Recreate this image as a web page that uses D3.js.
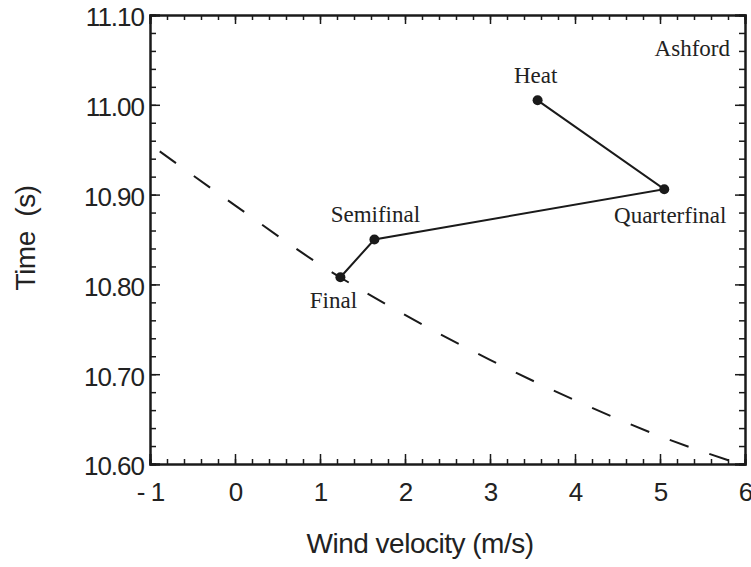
<!DOCTYPE html>
<html>
<head>
<style>
  body { margin: 0; background: #fff; }
  .tick text { fill: #222; }
</style>
</head>
<body>
<div id="chart"></div>
<script src="https://d3js.org/d3.v7.min.js"></script>
<script>
const stages = ["Heat", "Quarterfinal", "Semifinal", "Final"]
const stageWind = [3.56, 5.05, 1.64, 1.24]
const stageTime = [11.005, 10.906, 10.850, 10.808]

const curveWind = [-1, 0, 1, 2, 3, 4, 5, 6]
const curveTime = [10.956, 10.888, 10.822, 10.766, 10.716, 10.671, 10.631, 10.598]

const xTicks = [-1, 0, 1, 2, 3, 4, 5, 6]
const yTicks = [10.6, 10.7, 10.8, 10.9, 11.0, 11.1]

const width = 751, height = 567
const plotLeft = 150, plotRight = 745, plotTop = 15, plotBottom = 464

const x = d3.scaleLinear().domain([-1, 6]).range([plotLeft, plotRight])
const y = d3.scaleLinear().domain([10.6, 11.1]).range([plotBottom, plotTop])

const svg = d3.select("#chart").append("svg")
  .attr("width", width).attr("height", height)

const ink = "#1a1a1a"
const xMinor = d3.range(-1, 6.001, 0.2)
const yMinor = d3.range(10.6, 11.1001, 0.02)

// bottom axis
svg.append("g").attr("transform", `translate(0,${plotBottom})`)
  .call(d3.axisBottom(x).tickValues(xMinor).tickSize(-5).tickFormat(""))
svg.append("g").attr("class", "xaxis").attr("transform", `translate(0,${plotBottom})`)
  .call(d3.axisBottom(x).tickValues(xTicks).tickSize(-10)
    .tickFormat(d => d < 0 ? "- " + Math.abs(d) : d))
// top axis
svg.append("g").attr("transform", `translate(0,${plotTop})`)
  .call(d3.axisTop(x).tickValues(xMinor).tickSize(-5).tickFormat(""))
svg.append("g").attr("transform", `translate(0,${plotTop})`)
  .call(d3.axisTop(x).tickValues(xTicks).tickSize(-9).tickFormat(""))
// left axis
svg.append("g").attr("transform", `translate(${plotLeft},0)`)
  .call(d3.axisLeft(y).tickValues(yMinor).tickSize(-6).tickFormat(""))
svg.append("g").attr("class", "yaxis").attr("transform", `translate(${plotLeft},0)`)
  .call(d3.axisLeft(y).tickValues(yTicks).tickSize(-10)
    .tickFormat(d3.format(".2f")))
// right axis
svg.append("g").attr("transform", `translate(${plotRight},0)`)
  .call(d3.axisRight(y).tickValues(yMinor).tickSize(-6).tickFormat(""))
svg.append("g").attr("transform", `translate(${plotRight},0)`)
  .call(d3.axisRight(y).tickValues(yTicks).tickSize(-10).tickFormat(""))

svg.selectAll(".domain").attr("stroke", ink).attr("stroke-width", 2)
svg.selectAll(".tick line").attr("stroke", ink).attr("stroke-width", 1.5)
svg.selectAll(".tick text")
  .attr("font-family", "Liberation Sans, Arial, sans-serif")
  .attr("font-size", 26).attr("letter-spacing", -1)
svg.selectAll(".xaxis .tick text").attr("y", 28).attr("dy", "0.36em")
svg.selectAll(".yaxis .tick text").attr("x", -6).attr("dy", "0.42em")

// dashed reference curve
const curve = curveWind.map((w, i) => [w, curveTime[i]])
svg.append("path")
  .datum(curve)
  .attr("fill", "none")
  .attr("stroke", ink)
  .attr("stroke-width", 2)
  .attr("stroke-dasharray", "20,22")
  .attr("stroke-dashoffset", 30)
  .attr("d", d3.line().x(d => x(d[0])).y(d => y(d[1])).curve(d3.curveMonotoneX))

// race path
const pts = stages.map((s, i) => ({ name: s, w: stageWind[i], t: stageTime[i] }))
svg.append("path")
  .datum(pts)
  .attr("fill", "none")
  .attr("stroke", ink)
  .attr("stroke-width", 2)
  .attr("d", d3.line().x(d => x(d.w)).y(d => y(d.t)))

svg.selectAll(".dot").data(pts).enter().append("circle")
  .attr("class", "dot")
  .attr("cx", d => x(d.w)).attr("cy", d => y(d.t))
  .attr("r", 5).attr("fill", ink)

const labelOffset = {
  Heat: [-2, -17],
  Quarterfinal: [6, 34],
  Semifinal: [1, -18],
  Final: [-7, 31]
}
svg.selectAll(".lab").data(pts).enter().append("text")
  .attr("class", "lab")
  .attr("x", d => x(d.w) + labelOffset[d.name][0])
  .attr("y", d => y(d.t) + labelOffset[d.name][1])
  .attr("text-anchor", "middle")
  .attr("font-family", "Liberation Serif, Times New Roman, serif")
  .attr("font-size", 23)
  .attr("fill", "#222")
  .text(d => d.name)

svg.append("text")
  .attr("x", plotRight - 15).attr("y", plotTop + 41)
  .attr("text-anchor", "end")
  .attr("font-family", "Liberation Serif, Times New Roman, serif")
  .attr("font-size", 23)
  .attr("fill", "#222")
  .text("Ashford")

// axis titles
svg.append("text")
  .attr("x", 420).attr("y", 553)
  .attr("text-anchor", "middle")
  .attr("font-family", "Liberation Sans, Arial, sans-serif")
  .attr("font-size", 28).attr("letter-spacing", -0.5)
  .attr("fill", "#222")
  .text("Wind velocity (m/s)")

svg.append("text")
  .attr("transform", "translate(35,238) rotate(-90)")
  .attr("text-anchor", "middle")
  .attr("font-family", "Liberation Sans, Arial, sans-serif")
  .attr("font-size", 28).attr("letter-spacing", -0.5)
  .attr("fill", "#222")
  .style("white-space", "pre")
  .text("Time  (s)")
</script>
</body>
</html>
